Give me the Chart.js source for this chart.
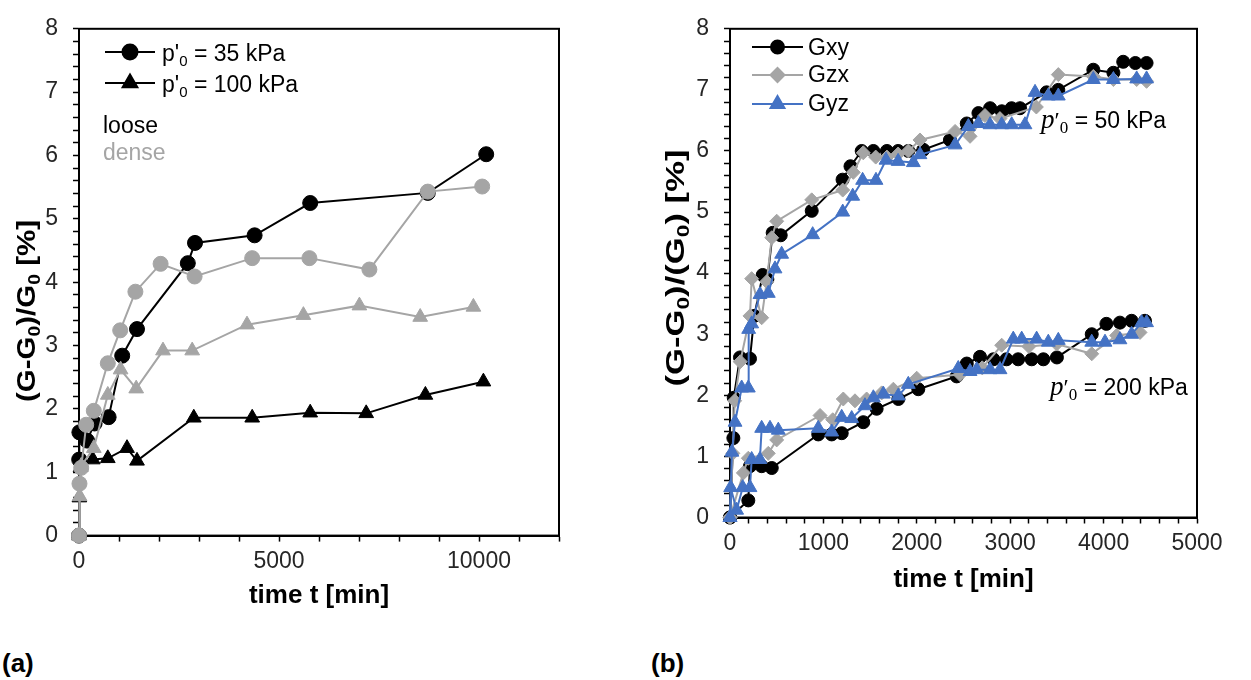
<!DOCTYPE html>
<html>
<head>
<meta charset="utf-8">
<script src="https://cdn.jsdelivr.net/npm/chart.js@4.4.0/dist/chart.umd.min.js"></script>
<style>
  body { margin: 0; background: #fff; width: 1251px; height: 680px; overflow: hidden; position: relative; }
  #boxA { position: absolute; left: 0; top: 0; }
  #boxB { position: absolute; left: 640px; top: 0; }
  .tag { position: absolute; top: 650px; font: bold 26px "Liberation Sans", Arial, sans-serif; line-height: 1; color: #000; }
</style>
</head>
<body>
<div id="boxA"><canvas id="chartA" width="620" height="625"></canvas></div>
<div id="boxB"><canvas id="chartB" width="611" height="625"></canvas></div>
<div class="tag" style="left:2px">(a)</div>
<div class="tag" style="left:651px">(b)</div>
<script>
// ---- panel (a): loose / dense, p'0 = 35 and 100 kPa ----
const looseT35 = [0, 5, 10, 200, 390, 740, 1080, 1450, 2720, 2900, 4390, 5780, 8720, 10180];
const looseG35 = [0, 1.2, 1.63, 1.5, 1.77, 1.87, 2.84, 3.26, 4.30, 4.62, 4.74, 5.25, 5.41, 6.02];
const denseT35 = [0, 12, 55, 180, 370, 720, 1030, 1410, 2040, 2890, 4330, 5760, 7260, 8720, 10080];
const denseG35 = [0, 0.82, 1.07, 1.75, 1.97, 2.72, 3.24, 3.85, 4.29, 4.09, 4.38, 4.38, 4.2, 5.43, 5.51];
const looseT100 = [0, 10, 40, 345, 720, 1200, 1450, 2870, 4330, 5780, 7180, 8660, 10110];
const looseG100 = [0, 0.6, 1.08, 1.2, 1.22, 1.38, 1.18, 1.86, 1.86, 1.94, 1.93, 2.22, 2.43];
const denseT100 = [0, 15, 55, 370, 720, 1040, 1430, 2100, 2830, 4200, 5610, 7010, 8530, 9860];
const denseG100 = [0, 0.62, 1.1, 1.38, 2.22, 2.62, 2.32, 2.92, 2.92, 3.33, 3.48, 3.63, 3.45, 3.61];

// ---- panel (b): Gxy, Gzx, Gyz at p'0 = 50 and 200 kPa ----
const xyT50 = [0, 36, 40, 107, 214, 260, 350, 400, 457, 543, 875, 1205, 1290, 1410, 1535, 1680, 1800, 1910, 2070, 2355, 2535, 2660, 2785, 2910, 3015, 3105, 3390, 3515, 3890, 4105, 4210, 4340, 4460];
const xyG50 = [0, 1.3, 1.96, 2.62, 2.6, 3.3, 3.97, 3.9, 4.66, 4.62, 5.02, 5.53, 5.75, 6.0, 6.0, 6.0, 6.0, 6.0, 6.02, 6.18, 6.45, 6.62, 6.7, 6.65, 6.7, 6.7, 6.96, 7.0, 7.33, 7.28, 7.46, 7.44, 7.44];
const zxT50 = [0, 30, 50, 110, 214, 232, 339, 393, 447, 500, 875, 1207, 1320, 1427, 1560, 1680, 1800, 1910, 2034, 2410, 2570, 2730, 2890, 3280, 3515, 3890, 4105, 4354, 4460];
const zxG50 = [0, 1.05, 1.91, 2.55, 3.3, 3.91, 3.27, 3.86, 4.58, 4.85, 5.2, 5.36, 5.65, 5.97, 5.9, 5.9, 5.95, 6.0, 6.18, 6.32, 6.24, 6.58, 6.53, 6.72, 7.25, 7.22, 7.17, 7.17, 7.14];
const yzT50 = [0, 20, 54, 125, 196, 200, 232, 321, 410, 482, 553, 885, 1207, 1314, 1420, 1563, 1670, 1800, 1963, 2034, 2410, 2552, 2659, 2784, 2909, 3016, 3158, 3266, 3408, 3515, 3890, 4105, 4354, 4460];
const yzG50 = [0, 1.07, 1.56, 2.12, 2.12, 3.08, 3.17, 3.65, 3.67, 4.07, 4.31, 4.63, 5.0, 5.26, 5.52, 5.52, 5.85, 5.83, 5.81, 5.94, 6.1, 6.4, 6.45, 6.43, 6.43, 6.43, 6.43, 6.96, 6.9, 6.9, 7.17, 7.17, 7.18, 7.18];

const xyT200 = [0, 196, 214, 339, 447, 945, 1089, 1196, 1427, 1570, 1803, 2016, 2427, 2535, 2677, 2820, 2960, 3085, 3230, 3355, 3500, 3873, 4030, 4175, 4300, 4443];
const xyG200 = [0, 0.28, 0.84, 0.84, 0.81, 1.36, 1.36, 1.38, 1.56, 1.78, 1.94, 2.1, 2.31, 2.52, 2.63, 2.59, 2.59, 2.59, 2.59, 2.59, 2.62, 3.0, 3.17, 3.19, 3.22, 3.22];
const zxT200 = [0, 143, 196, 410, 500, 964, 1100, 1213, 1338, 1463, 1624, 1749, 1999, 2463, 2700, 2909, 3200, 3498, 3873, 4140, 4390];
const zxG200 = [0, 0.73, 0.97, 1.05, 1.27, 1.67, 1.6, 1.94, 1.91, 1.94, 2.04, 2.1, 2.28, 2.34, 2.45, 2.82, 2.8, 2.84, 2.68, 2.98, 3.03];
const yzT200 = [0, 7, 71, 136, 214, 232, 320, 339, 428, 517, 945, 1089, 1196, 1303, 1445, 1535, 1642, 1802, 1909, 2444, 2570, 2641, 2784, 2891, 3033, 3123, 3283, 3408, 3515, 3873, 4015, 4175, 4300, 4407, 4460];
const yzG200 = [0, 0.49, 0.12, 0.49, 0.49, 0.95, 0.95, 1.46, 1.46, 1.43, 1.46, 1.40, 1.64, 1.62, 1.83, 1.96, 2.02, 1.99, 2.18, 2.44, 2.39, 2.42, 2.42, 2.42, 2.92, 2.92, 2.92, 2.87, 2.9, 2.87, 2.87, 2.91, 3.0, 3.19, 3.19];

const BLACK = '#000000';
const GREY = '#A5A5A5';
const BLUE = '#4472C4';
const SANS = '"Liberation Sans", Arial, sans-serif';
const SERIF = '"Liberation Serif", "DejaVu Serif", serif';

Chart.defaults.font.family = SANS;

function pts(ts, vs) {
    return ts.map((t, i) => ({ x: t, y: vs[i] }));
}

function series(ts, vs, color, style, r) {
    return {
        data: pts(ts, vs),
        borderColor: color,
        backgroundColor: color,
        borderWidth: 2,
        pointStyle: style,
        pointRadius: r,
        pointBorderWidth: 1,
        pointHoverRadius: r,
        clip: false,
        tension: 0
    };
}

// draws text made of pieces (normal + subscript) from a baseline
function drawRich(ctx, parts, x, y) {
    let cx = x;
    parts.forEach(p => {
        ctx.font = p.font;
        ctx.fillStyle = p.color || '#000';
        ctx.textBaseline = 'alphabetic';
        ctx.textAlign = 'left';
        ctx.fillText(p.text, cx, y + (p.dy || 0));
        cx += ctx.measureText(p.text).width;
    });
    return cx - x;
}

function richWidth(ctx, parts) {
    let w = 0;
    parts.forEach(p => { ctx.font = p.font; w += ctx.measureText(p.text).width; });
    return w;
}

const decor = {
    id: 'decor',
    beforeDatasetsDraw(chart, args, opts) {
        const { ctx, chartArea: a } = chart;
        ctx.save();
        ctx.strokeStyle = '#000';
        ctx.lineWidth = 2;
        ctx.strokeRect(a.left, a.top, a.right - a.left, a.bottom - a.top);
        ctx.restore();
    },
    afterDraw(chart, args, opts) {
        const ctx = chart.ctx;
        (opts.legend || []).forEach(e => {
            const ds = chart.data.datasets[e.index];
            ctx.save();
            ctx.strokeStyle = ds.borderColor;
            ctx.lineWidth = ds.borderWidth;
            ctx.beginPath();
            ctx.moveTo(e.x1, e.y);
            ctx.lineTo(e.x2, e.y);
            ctx.stroke();
            ctx.fillStyle = ds.backgroundColor;
            Chart.helpers.drawPoint(ctx, { pointStyle: ds.pointStyle, radius: ds.pointRadius, rotation: 0, borderWidth: 1 }, (e.x1 + e.x2) / 2, e.y);
            drawRich(ctx, e.parts, e.tx, e.base);
            ctx.restore();
        });
        (opts.texts || []).forEach(t => {
            ctx.save();
            drawRich(ctx, t.parts, t.x, t.y);
            ctx.restore();
        });
        if (opts.yTitle) {
            const t = opts.yTitle;
            ctx.save();
            const w = richWidth(ctx, t.parts);
            ctx.translate(t.cx, t.cy);
            ctx.rotate(-Math.PI / 2);
            ctx.scale(t.len / w, 1);
            drawRich(ctx, t.parts, -w / 2, 9);
            ctx.restore();
        }
    }
};

function axes(xMax, xStep, xLabelEvery, yWidth, xHeight, titlePad) {
    const tickFont = { family: SANS, size: 23 };
    return {
        x: {
            type: 'linear', min: 0, max: xMax,
            ticks: {
                stepSize: xStep, autoSkip: false, maxTicksLimit: 100, maxRotation: 0,
                font: tickFont, color: '#262626', padding: 6,
                callback: v => (Math.round(v) % xLabelEvery === 0 ? String(Math.round(v)) : '')
            },
            grid: { drawOnChartArea: false, drawTicks: true, tickLength: 6, tickColor: '#000', tickWidth: 1.5 },
            border: { color: '#000', width: 2 },
            title: { display: true, text: 'time t [min]', color: '#000', font: { family: SANS, size: 26, weight: 'bold' }, padding: { top: 0, bottom: titlePad } },
            afterFit: s => { s.height = xHeight; }
        },
        y: {
            type: 'linear', min: 0, max: 8,
            ticks: {
                stepSize: 0.2, autoSkip: false, maxTicksLimit: 100,
                font: tickFont, color: '#262626', padding: 15,
                callback: v => (Math.abs(v - Math.round(v)) < 1e-6 ? String(Math.round(v)) : '')
            },
            grid: { drawOnChartArea: false, drawTicks: true, tickLength: 6, tickColor: '#000', tickWidth: 1.5 },
            border: { color: '#000', width: 2 },
            afterFit: s => { s.width = yWidth; }
        }
    };
}

const F = 'px ' + SANS;
const sub = (txt, size, col) => ({ text: txt, font: size + F, dy: 5, color: col });

// ---- chart (a) ----
new Chart(document.getElementById('chartA'), {
    type: 'line',
    data: {
        datasets: [
            series(denseT35, denseG35, GREY, 'circle', 7.5),
            series(denseT100, denseG100, GREY, 'triangle', 8.5),
            series(looseT35, looseG35, BLACK, 'circle', 7.5),
            series(looseT100, looseG100, BLACK, 'triangle', 8.5)
        ]
    },
    options: {
        responsive: false,
        animation: false,
        layout: { padding: { top: 22, right: 61, left: 0, bottom: 0 } },
        scales: axes(12000, 1000, 5000, 79, 89.4, 13.4),
        plugins: {
            legend: { display: false },
            tooltip: { enabled: false },
            decor: {
                legend: [
                    { index: 2, x1: 105, x2: 155, y: 52, tx: 162, base: 61,
                      parts: [{ text: "p'", font: '23' + F }, sub('0', 15), { text: ' = 35 kPa', font: '23' + F }] },
                    { index: 3, x1: 105, x2: 155, y: 83, tx: 162, base: 92,
                      parts: [{ text: "p'", font: '23' + F }, sub('0', 15), { text: ' = 100 kPa', font: '23' + F }] }
                ],
                texts: [
                    { x: 103, y: 133, parts: [{ text: 'loose', font: '23' + F, color: '#000' }] },
                    { x: 103, y: 160, parts: [{ text: 'dense', font: '23' + F, color: GREY }] }
                ],
                yTitle: { cx: 26, cy: 311, len: 182,
                    parts: [
                        { text: '(G-G', font: 'bold 26' + F }, { text: '0', font: 'bold 17' + F, dy: 5 },
                        { text: ')/G', font: 'bold 26' + F }, { text: '0', font: 'bold 17' + F, dy: 5 },
                        { text: ' [%]', font: 'bold 26' + F }
                    ] }
            }
        }
    },
    plugins: [decor]
});

// ---- chart (b) ----
const serifP = [{ text: 'p', font: 'italic 27px ' + SERIF }, { text: '\u2032', font: '24px ' + SERIF }, { text: '0', font: '17px ' + SERIF, dy: 5 }];
new Chart(document.getElementById('chartB'), {
    type: 'line',
    data: {
        datasets: [
            series(yzT50, yzG50, BLUE, 'triangle', 8),
            series(yzT200, yzG200, BLUE, 'triangle', 8),
            series(zxT50, zxG50, GREY, 'rectRot', 7),
            series(zxT200, zxG200, GREY, 'rectRot', 7),
            series(xyT50, xyG50, BLACK, 'circle', 6.5),
            series(xyT200, xyG200, BLACK, 'circle', 6.5)
        ]
    },
    options: {
        responsive: false,
        animation: false,
        layout: { padding: { top: 18, right: 54, left: 0, bottom: 0 } },
        scales: axes(5000, 200, 1000, 90, 107.5, 29.4),
        plugins: {
            legend: { display: false },
            tooltip: { enabled: false },
            decor: {
                legend: [
                    { index: 4, x1: 112, x2: 163, y: 47, tx: 168, base: 55, parts: [{ text: 'Gxy', font: '23' + F }] },
                    { index: 2, x1: 112, x2: 163, y: 75, tx: 168, base: 82, parts: [{ text: 'Gzx', font: '23' + F }] },
                    { index: 0, x1: 112, x2: 163, y: 104, tx: 168, base: 111, parts: [{ text: 'Gyz', font: '23' + F }] }
                ],
                texts: [
                    { x: 401, y: 128, parts: serifP.concat([{ text: ' = 50 kPa', font: '23' + F }]) },
                    { x: 410, y: 395, parts: serifP.concat([{ text: ' = 200 kPa', font: '23' + F }]) }
                ],
                yTitle: { cx: 35, cy: 268, len: 237,
                    parts: [
                        { text: '(G-G', font: 'bold 26' + F }, { text: '0', font: 'bold 17' + F, dy: 5 },
                        { text: ')/(G', font: 'bold 26' + F }, { text: '0', font: 'bold 17' + F, dy: 5 },
                        { text: ') [%]', font: 'bold 26' + F }
                    ] }
            }
        }
    },
    plugins: [decor]
});
</script>
</body>
</html>
